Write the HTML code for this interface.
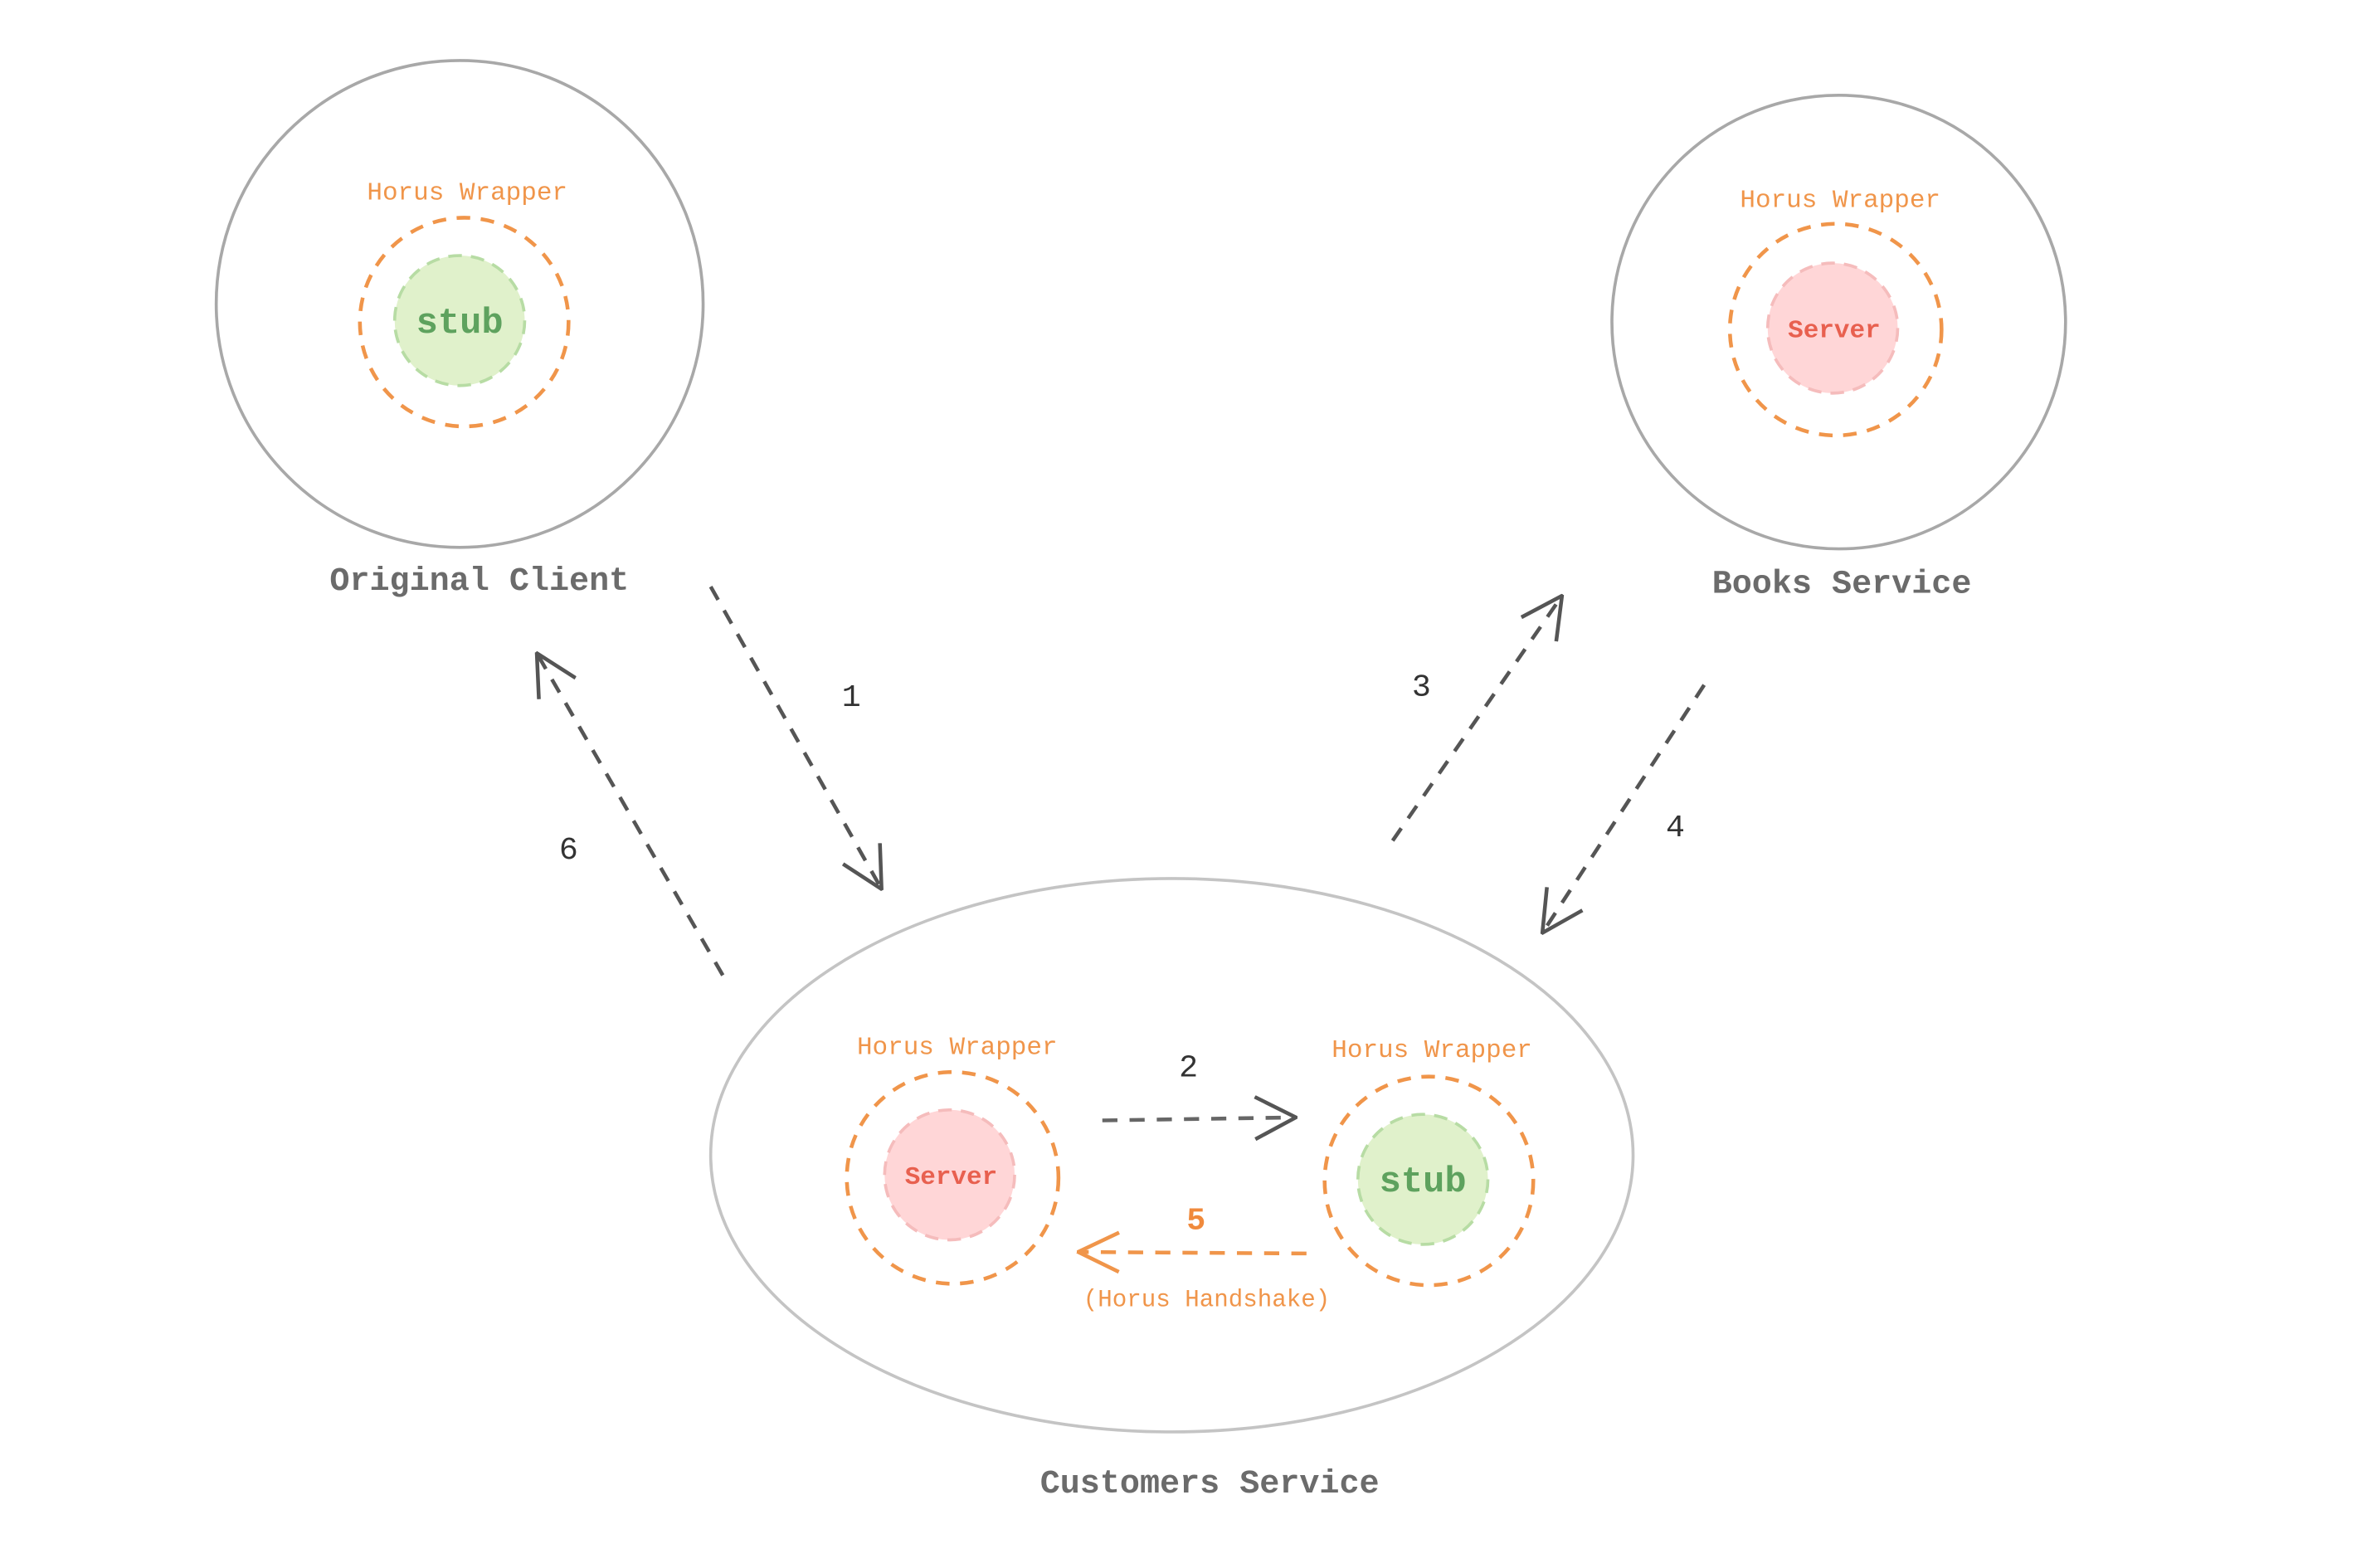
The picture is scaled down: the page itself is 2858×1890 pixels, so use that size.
<!DOCTYPE html>
<html><head><style>html,body{margin:0;padding:0;background:#fff;}svg{display:block}</style></head>
<body>
<svg width="2858" height="1890" viewBox="0 0 1568 1037" preserveAspectRatio="none" xmlns="http://www.w3.org/2000/svg" font-family="'Liberation Mono', monospace">
<defs>
<marker id="ag2" viewBox="0 0 30 30" refX="29" refY="15" markerWidth="30" markerHeight="30" markerUnits="userSpaceOnUse" orient="auto"><path d="M2,1 L29,15 L2,29" fill="none" stroke="#555" stroke-width="2.5"/></marker>
<marker id="ao" viewBox="0 0 30 30" refX="29" refY="15" markerWidth="30" markerHeight="30" markerUnits="userSpaceOnUse" orient="auto"><path d="M2,2 L29,15 L2,28" fill="none" stroke="#f0954a" stroke-width="2.5"/></marker>
</defs>
<g fill="none" stroke="#a8a8a8" stroke-width="2">
<circle cx="304" cy="201" r="161"/>
<circle cx="1216" cy="213" r="150"/>
<ellipse cx="775" cy="764" rx="305" ry="183" stroke="#c4c4c4"/>
</g>
<g fill="none" stroke="#f0954a" stroke-width="2.5" stroke-dasharray="9 7">
<circle cx="307" cy="213" r="69"/>
<circle cx="1214" cy="218" r="70"/>
<circle cx="630" cy="779" r="70"/>
<circle cx="945" cy="781" r="69"/>
</g>
<g stroke-width="2" stroke-dasharray="9 6">
<circle cx="304" cy="212" r="43" fill="#e0f1cb" stroke="#b7dca4"/>
<circle cx="941" cy="780" r="43" fill="#e0f1cb" stroke="#b7dca4"/>
<circle cx="1212" cy="217" r="43" fill="#ffd6d7" stroke="#f5bcbc"/>
<circle cx="628" cy="777" r="43" fill="#ffd6d7" stroke="#f5bcbc"/>
</g>
<g fill="#f0954a" font-size="17" text-anchor="middle">
<text x="309" y="132">Horus Wrapper</text>
<text x="1217" y="137">Horus Wrapper</text>
<text x="633" y="697">Horus Wrapper</text>
<text x="947" y="699">Horus Wrapper</text>
<text x="798" y="864" font-size="16">(Horus Handshake)</text>
<text x="791" y="813" font-size="21" font-weight="bold" fill="#f08a3c">5</text>
</g>
<g text-anchor="middle" font-weight="bold">
<text x="304" y="220" font-size="24" fill="#5ea25e">stub</text>
<text x="941" y="788" font-size="24" fill="#5ea25e">stub</text>
<text x="1213" y="223" font-size="17" fill="#e8604f">Server</text>
<text x="629" y="783" font-size="17" fill="#e8604f">Server</text>
</g>
<g fill="#6b6b6b" font-size="22" font-weight="bold" text-anchor="middle">
<text x="317" y="390">Original Client</text>
<text x="1218" y="392">Books Service</text>
<text x="800" y="987">Customers Service</text>
</g>
<g fill="#333" font-size="21" text-anchor="middle">
<text x="563" y="467">1</text>
<text x="786" y="712">2</text>
<text x="940" y="460">3</text>
<text x="1108" y="553">4</text>
<text x="376" y="568">6</text>
</g>
<g stroke="#555" stroke-width="2.5" stroke-dasharray="10 8" fill="none">
<line x1="470" y1="388" x2="583" y2="588" marker-end="url(#ag2)"/>
<line x1="478" y1="645" x2="355" y2="432" marker-end="url(#ag2)"/>
<line x1="921" y1="556" x2="1033" y2="394" marker-end="url(#ag2)"/>
<line x1="1127" y1="453" x2="1020" y2="617" marker-end="url(#ag2)"/>
<line x1="729" y1="741" x2="857" y2="739" marker-end="url(#ag2)" stroke="#666"/>
<line x1="864" y1="829" x2="713" y2="828" marker-end="url(#ao)" stroke="#f0954a"/>
</g>
</svg>
</body></html>
